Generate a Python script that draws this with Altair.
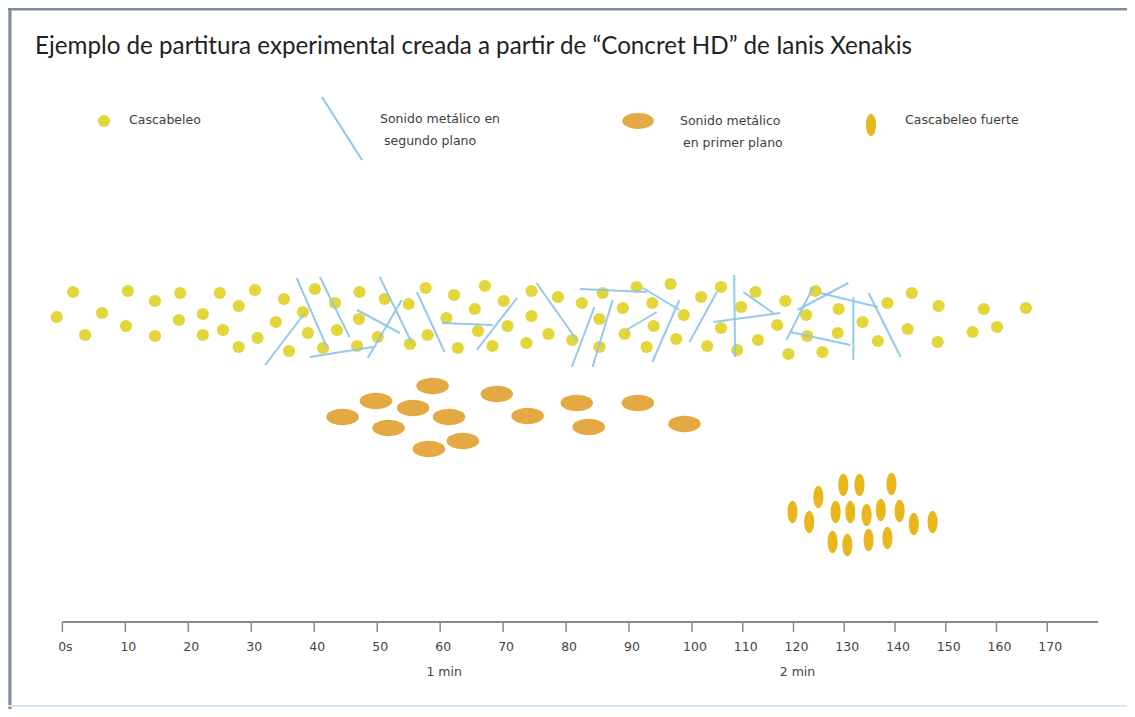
import altair as alt
import pandas as pd

TITLE = "Ejemplo de partitura experimental creada a partir de \u201cConcret HD\u201d de Ianis Xenakis"

# --- "Cascabeleo" (yellow dots): time in seconds, vertical place in the score (rows from the top)
cascabeleo_t = [1.7, 10.4, 14.7, 18.7, 25.0, 30.6, 28.0, 35.2, 40.1, 43.3, 47.2, 51.2,
                -0.9, 6.3, 10.1, 18.5, 22.3, 25.5, 33.9, 38.2, 43.6, 47.1, 50.1,
                3.6, 14.7, 22.3, 28.0, 31.0, 39.0, 36.0, 41.4, 46.8,
                55.0, 57.7, 62.2, 67.1, 70.1, 74.5, 78.7, 82.5, 85.8, 91.2, 93.7, 96.6, 101.8, 105.7,
                61.0, 65.5, 66.0, 70.7, 74.5, 77.2, 81.0, 85.3, 89.0, 89.3, 93.9, 98.7, 105.7,
                55.2, 58.0, 62.8, 68.3, 73.7, 85.3, 92.8, 97.5, 103.0, 108.9,
                112.5, 118.4, 124.3, 128.9, 138.5, 143.3, 148.6, 157.5, 165.8,
                109.7, 122.5, 116.8, 122.7, 128.7, 133.6, 142.5, 160.1, 155.3,
                113.0, 119.0, 125.7, 136.6, 148.4]
cascabeleo_y = [292, 291, 301, 293, 293, 290, 306, 299, 289, 303, 292, 299,
                317, 313, 326, 320, 314, 330, 322, 312, 330, 319, 337,
                335, 336, 335, 347, 338, 333, 351, 348, 346,
                304, 288, 295, 286, 301, 291, 297, 303, 293, 287, 303, 284, 297, 287,
                318, 309, 331, 326, 316, 334, 340, 319, 308, 334, 326, 315, 328,
                344, 335, 348, 346, 343, 347, 347, 339, 346, 350,
                292, 301, 291, 309, 303, 293, 306, 309, 308,
                307, 315, 325, 336, 333, 322, 329, 327, 332,
                340, 354, 352, 341, 342]

# --- "Sonido metálico en segundo plano" (blue strokes): start / end
metal2_t1 = [32.2, 37.2, 40.9, 39.3, 48.5, 46.8, 50.4, 56.3, 60.3, 65.8, 75.3, 82.2, 80.9, 84.2,
             92.2, 93.7, 89.6, 99.6, 108.3, 104.2, 110.1, 118.6, 119.4, 120.8, 125.3, 131.8, 134.8]
metal2_y1 = [365, 278, 277, 357, 358, 310, 277, 292, 323, 350, 283, 289, 367, 367,
             288, 362, 330, 342, 275, 322, 292, 340, 332, 310, 293, 297, 293]
metal2_t2 = [38.5, 42.0, 45.6, 49.3, 53.9, 53.6, 55.5, 60.7, 68.3, 72.2, 81.7, 92.8, 84.5, 87.4,
             98.0, 98.0, 94.4, 104.9, 108.5, 117.4, 116.0, 123.9, 131.2, 130.8, 136.6, 131.8, 141.1]
metal2_y2 = [313, 347, 337, 347, 300, 333, 343, 352, 325, 298, 340, 292, 307, 300,
             310, 300, 312, 292, 357, 313, 313, 287, 345, 283, 307, 360, 357]

# --- "Sonido metálico en primer plano" (orange ellipses)
metal1_t = [44.5, 49.8, 55.7, 58.8, 51.8, 61.4, 58.2, 63.6, 69.0, 73.9, 81.7, 83.6, 91.4, 98.8]
metal1_y = [417, 401, 408, 386, 428, 417, 449, 441, 394, 416, 403, 427, 403, 424]

# --- "Cascabeleo fuerte" (tall golden ellipses)
fuerte_t = [119.8, 123.1, 124.9, 129.8, 133.0, 139.3, 128.3, 131.2, 134.4, 137.2, 140.9,
            143.7, 147.4, 127.7, 130.6, 134.8, 138.5]
fuerte_y = [512, 522, 497, 485, 485, 484, 512, 512, 515, 510, 511,
            524, 522, 542, 545, 540, 538]

# --- time axis
tick_t = [0, 10, 20, 30, 40, 50, 60, 70, 80, 90, 100, 110, 120, 130, 140, 150, 160, 170]
tick_labels = ["0s", "10", "20", "30", "40", "50", "60", "70", "80", "90", "100", "110",
               "120", "130", "140", "150", "160", "170"]
minute_t = [60, 120]
minute_labels = ["1 min", "2 min"]
axis_span = [0, 180]

W, H = 1119, 701
xs = alt.Scale(domain=[0, 100, 180], range=[54.4, 684, 1090], nice=False, zero=False)
ys = alt.Scale(domain=[8, 709], range=[0, H], nice=False, zero=False)

YELLOW = "#e3d63a"
BLUE = "#8ec6e8"
ORANGE = "#e5a944"
GOLD = "#e8b71d"
ELLIPSE_H = "M -1 0 A 1 0.5 0 1 0 1 0 A 1 0.5 0 1 0 -1 0 Z"
ELLIPSE_V = "M 0 -1 A 0.45 1 0 1 0 0 1 A 0.45 1 0 1 0 0 -1 Z"
FONT = "DejaVu Sans"

one = pd.DataFrame({"k": [0]})

df_y = pd.DataFrame({"t": cascabeleo_t, "y": cascabeleo_y})
df_l = pd.DataFrame({"t1": metal2_t1, "y1": metal2_y1, "t2": metal2_t2, "y2": metal2_y2})
df_o = pd.DataFrame({"t": metal1_t, "y": metal1_y})
df_f = pd.DataFrame({"t": fuerte_t, "y": fuerte_y})
df_ticks = pd.DataFrame({"t": tick_t, "label": tick_labels})
df_min = pd.DataFrame({"t": minute_t, "label": minute_labels})
df_axis = pd.DataFrame({"a": [axis_span[0]], "b": [axis_span[1]]})

# frame
frame_top = alt.Chart(one).mark_rule(color="#7c8c9e", strokeWidth=3).encode(
    x=alt.value(0), x2=alt.value(W), y=alt.value(1))
frame_left = alt.Chart(one).mark_rule(color="#7c8c9e", strokeWidth=3).encode(
    x=alt.value(2), y=alt.value(0), y2=alt.value(H))
frame_bottom = alt.Chart(one).mark_rule(color="#d6e6f2", strokeWidth=2).encode(
    x=alt.value(0), x2=alt.value(W), y=alt.value(H - 3))

title = alt.Chart(one).mark_text(
    text=TITLE, font="Lato", fontSize=24.2, color="#222222", align="left", baseline="middle"
).encode(x=alt.value(27), y=alt.value(39))


def legend_text(txt, x, y):
    return alt.Chart(one).mark_text(
        text=txt, font=FONT, fontSize=12.5, color="#404040", align="left", baseline="middle"
    ).encode(x=alt.value(x), y=alt.value(y))


leg_dot = alt.Chart(one).mark_circle(size=150, color=YELLOW, opacity=1).encode(
    x=alt.value(96), y=alt.value(113))
leg_line = alt.Chart(one).mark_rule(color=BLUE, strokeWidth=2).encode(
    x=alt.value(314), y=alt.value(89), x2=alt.value(354), y2=alt.value(152))
leg_oval = alt.Chart(one).mark_point(shape=ELLIPSE_H, filled=True, size=1000, color=ORANGE, opacity=1).encode(
    x=alt.value(630), y=alt.value(113))
leg_tall = alt.Chart(one).mark_point(shape=ELLIPSE_V, filled=True, size=500, color=GOLD, opacity=1).encode(
    x=alt.value(863), y=alt.value(117))

legend = [
    leg_dot, legend_text("Cascabeleo", 121, 112),
    leg_line, legend_text("Sonido metálico en", 372, 111), legend_text("segundo plano", 376, 133),
    leg_oval, legend_text("Sonido metálico", 672, 113), legend_text("en primer plano", 675, 135),
    leg_tall, legend_text("Cascabeleo fuerte", 897, 112),
]

dots = alt.Chart(df_y).mark_circle(size=150, color=YELLOW, opacity=1).encode(
    x=alt.X("t:Q", scale=xs, axis=None), y=alt.Y("y:Q", scale=ys, axis=None))
strokes = alt.Chart(df_l).mark_rule(color=BLUE, strokeWidth=2, opacity=0.95).encode(
    x=alt.X("t1:Q", scale=xs, axis=None), x2="t2:Q",
    y=alt.Y("y1:Q", scale=ys, axis=None), y2="y2:Q")
ovals = alt.Chart(df_o).mark_point(shape=ELLIPSE_H, filled=True, size=1060, color=ORANGE, opacity=1).encode(
    x=alt.X("t:Q", scale=xs, axis=None), y=alt.Y("y:Q", scale=ys, axis=None))
talls = alt.Chart(df_f).mark_point(shape=ELLIPSE_V, filled=True, size=500, color=GOLD, opacity=1).encode(
    x=alt.X("t:Q", scale=xs, axis=None), y=alt.Y("y:Q", scale=ys, axis=None))

axis_line = alt.Chart(df_axis).mark_rule(color="#8a8a8a", strokeWidth=2).encode(
    x=alt.X("a:Q", scale=xs, axis=None), x2="b:Q", y=alt.value(614))
ticks = alt.Chart(df_ticks).mark_rule(color="#8a8a8a", strokeWidth=1.5).encode(
    x=alt.X("t:Q", scale=xs, axis=None), y=alt.value(614), y2=alt.value(624))
tick_text = alt.Chart(df_ticks).mark_text(
    font=FONT, fontSize=12.5, color="#444444", baseline="middle", dx=3
).encode(x=alt.X("t:Q", scale=xs, axis=None), y=alt.value(639), text="label:N")
min_text = alt.Chart(df_min).mark_text(
    font=FONT, fontSize=12.5, color="#444444", baseline="middle", dx=4
).encode(x=alt.X("t:Q", scale=xs, axis=None), y=alt.value(664), text="label:N")

chart = alt.layer(
    frame_top, frame_left, frame_bottom, title, *legend,
    dots, ovals, talls, strokes, axis_line, ticks, tick_text, min_text
).properties(width=W, height=H, padding=0, autosize="none").configure_view(
    stroke=None
).configure(background="white")

chart.save("out.html", embed_options={"renderer": "svg", "actions": False})
